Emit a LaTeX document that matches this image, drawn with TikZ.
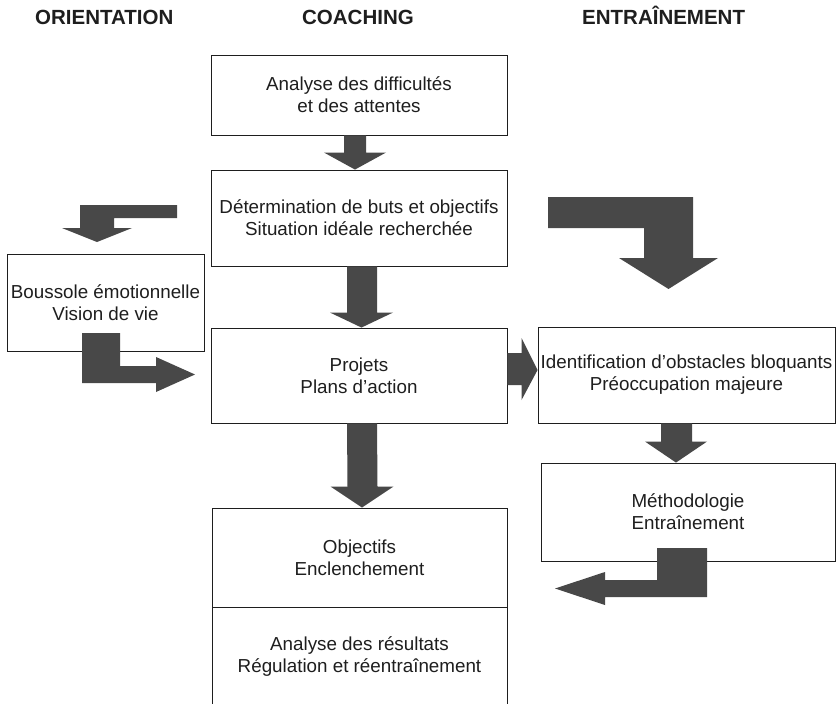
\documentclass[tikz,border=0pt]{standalone}
\usepackage{fontspec}
\setmainfont{Liberation Sans}
\usetikzlibrary{calc}
\definecolor{arrowgray}{HTML}{484848}
\definecolor{ink}{HTML}{1E1E1E}
\begin{document}
\begin{tikzpicture}[x=1pt,y=-1pt,
  box/.style={draw=ink, line width=0.9pt, inner sep=0pt, align=center,
    font=\fontsize{18.8}{22}\selectfont, text=ink},
  headtxt/.style={font=\bfseries\fontsize{20.5}{24}\selectfont, text=ink, inner sep=0pt},
  blockarrow/.style={fill=arrowgray, draw=none}]
\fill[white] (0,0) rectangle (839,704);
\useasboundingbox (0,0) rectangle (839,704);
% headers
\node[headtxt, anchor=base west] (h1) at (35,24) {ORIENTATION};
\node[headtxt, anchor=base] (h2) at (358,24) {COACHING};
\node[headtxt, anchor=base west] (h3) at (582,24) {ENTRAÎNEMENT};
% boxes
\node[box, minimum width=296pt, minimum height=80pt] (b1) at (359,95) {Analyse des difficultés\\et des attentes};
\node[box, minimum width=296pt, minimum height=96pt] (b2) at (359,218) {Détermination de buts et objectifs\\Situation idéale recherchée};
\node[box, minimum width=296pt, minimum height=95pt] (b3) at (359,375.5) {Projets\\Plans d’action};
\node[box, minimum width=295pt, minimum height=99pt] (b4) at (359.5,557.5) {Objectifs\\Enclenchement};
\node[box, minimum width=295pt, minimum height=100pt] (b5) at (359.5,657) {Analyse des résultats\\Régulation et réentraînement};
\node[box, minimum width=197pt, minimum height=97pt] (bo) at (105.5,302.5) {Boussole émotionnelle\\Vision de vie};
\node[box, minimum width=297pt, minimum height=96pt] (id) at (686.5,375) {Identification d’obstacles bloquants\\Préoccupation majeure};
\node[box, minimum width=294pt, minimum height=98pt] (me) at (688,512) {Méthodologie\\Entraînement};
% straight block arrows
\fill[blockarrow] ($(b1.south)+(-15,0)$) -- ($(b1.south)+(7,0)$) -- ($(b2.north)+(7,-17)$)
  -- ($(b2.north)+(27,-17)$) -- ($(b2.north)+(-4,0)$) -- ($(b2.north)+(-35,-17)$)
  -- ($(b2.north)+(-15,-17)$) -- cycle;
\fill[blockarrow] ($(b2.south)+(-12,0)$) -- ($(b2.south)+(18,0)$) -- ($(b3.north)+(18,-15)$)
  -- ($(b3.north)+(34,-15)$) -- ($(b3.north)+(2.5,0)$) -- ($(b3.north)+(-29,-15)$)
  -- ($(b3.north)+(-12,-15)$) -- cycle;
\fill[blockarrow] ($(b3.south)+(-12,0)$) -- ($(b3.south)+(18,0)$) -- ($(b4.north)+(18,-21)$)
  -- ($(b4.north)+(34,-21)$) -- ($(b4.north)+(2.5,0)$) -- ($(b4.north)+(-29,-21)$)
  -- ($(b4.north)+(-12,-21)$) -- cycle;
\fill[blockarrow] ($(b3.east)+(0,-22.5)$) -- ($(id.west)+(-16,-22)$) -- ($(id.west)+(-16,-37)$)
  -- ($(id.west)+(0,-5)$) -- ($(id.west)+(-16,25)$) -- ($(id.west)+(-16,10)$)
  -- ($(b3.east)+(0,9.5)$) -- cycle;
\fill[blockarrow] ($(id.south)+(-25.5,0)$) -- ($(id.south)+(5.5,0)$) -- ($(me.north)+(4,-21)$)
  -- ($(me.north)+(19,-21)$) -- ($(me.north)+(-12,0)$) -- ($(me.north)+(-43,-21)$)
  -- ($(me.north)+(-27,-21)$) -- cycle;
% L-shaped block arrows
\fill[blockarrow] (177,205) -- (80,205) -- (80,228) -- (62,228) -- (97,242) -- (132,228)
  -- (114,228) -- (114,218) -- (177,218) -- cycle;
\fill[blockarrow] (82,333) -- (120,333) -- (120,366) -- (156,366) -- (156,357) -- (195,374.5)
  -- (156,392) -- (156,383) -- (82,383) -- cycle;
\fill[blockarrow] (548,197) -- (693,197) -- (693,258) -- (718,258) -- (668.5,289) -- (619,258)
  -- (644,258) -- (644,228) -- (548,228) -- cycle;
\fill[blockarrow] (657,548) -- (707,548) -- (707,597) -- (605,597) -- (605,605) -- (555,588.5)
  -- (605,572) -- (605,580) -- (657,580) -- cycle;
\end{tikzpicture}
\end{document}
